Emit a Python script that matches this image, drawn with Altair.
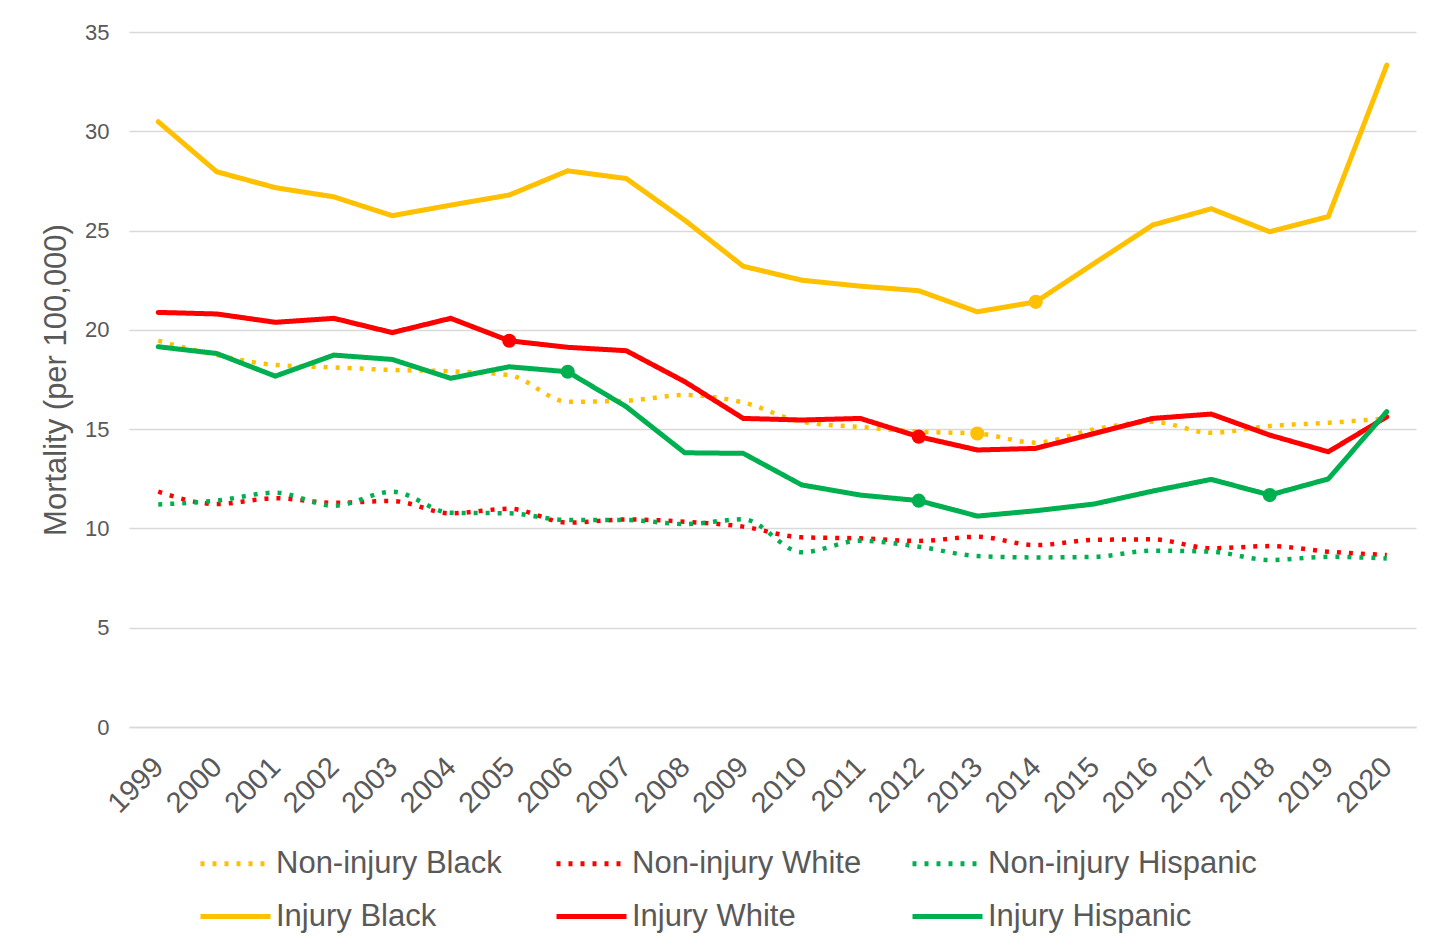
import altair as alt
import pandas as pd

years = [str(y) for y in range(1999, 2021)]

series_names = ["Non-injury Black", "Non-injury White", "Non-injury Hispanic",
                "Injury Black", "Injury White", "Injury Hispanic"]
series_colors = ["#FFC000", "#FF0000", "#00B050", "#FFC000", "#FF0000", "#00B050"]

noninj_black = [19.45, 18.73, 18.23, 18.11, 17.98, 17.91, 17.72, 16.38, 16.43, 16.72, 16.34,
                15.37, 15.11, 14.87, 14.78, 14.32, 14.99, 15.37, 14.82, 15.16, 15.32, 15.54]
noninj_white = [11.85, 11.23, 11.52, 11.29, 11.38, 10.76, 10.99, 10.29, 10.45, 10.34, 10.09,
                9.55, 9.50, 9.37, 9.58, 9.16, 9.42, 9.45, 9.00, 9.11, 8.83, 8.66]
noninj_hisp = [11.21, 11.40, 11.80, 11.14, 11.85, 10.79, 10.76, 10.42, 10.42, 10.22, 10.46,
               8.80, 9.38, 9.08, 8.61, 8.54, 8.57, 8.88, 8.83, 8.41, 8.57, 8.49]
injury_black = [30.48, 27.96, 27.16, 26.70, 25.75, 26.28, 26.79, 28.01, 27.62, 25.52, 23.20,
                22.50, 22.20, 21.97, 20.91, 21.41, 23.35, 25.28, 26.10, 24.94, 25.70, 33.33]
injury_white = [20.88, 20.80, 20.38, 20.58, 19.86, 20.58, 19.45, 19.12, 18.95, 17.39, 15.54,
                15.46, 15.54, 14.62, 13.95, 14.03, 14.78, 15.54, 15.76, 14.70, 13.86, 15.62]
injury_hisp = [19.15, 18.81, 17.67, 18.73, 18.51, 17.56, 18.14, 17.89, 16.13, 13.81, 13.78,
               12.19, 11.68, 11.40, 10.62, 10.89, 11.23, 11.88, 12.47, 11.68, 12.49, 15.88]

series_values = [noninj_black, noninj_white, noninj_hisp, injury_black, injury_white, injury_hisp]

# highlighted points (series, year)
marker_series = ["Injury White", "Injury White", "Injury Hispanic", "Injury Hispanic",
                 "Injury Hispanic", "Injury Black", "Non-injury Black"]
marker_years = ["2005", "2012", "2006", "2012", "2018", "2014", "2013"]

rows = []
for name, vals in zip(series_names, series_values):
    for y, v in zip(years, vals):
        rows.append({"year": y, "series": name, "value": v})
df = pd.DataFrame(rows)

mk = pd.DataFrame({"series": marker_series, "year": marker_years})
mk = mk.merge(df, on=["series", "year"])

dot = [4, 8]
solid = [1, 0]
dash_range = [dot, dot, dot, solid, solid, solid]

x_enc = alt.X("year:O", title=None,
              scale=alt.Scale(type="point", padding=0.5),
              axis=alt.Axis(labelAngle=-45, labelAlign="right", labelBaseline="middle",
                            labelFontSize=29, labelColor="#595959",
                            labelPadding=35, ticks=False, domain=True,
                            domainColor="#D9D9D9", domainWidth=1.5, grid=False))
y_enc = alt.Y("value:Q", title="Mortality (per 100,000)",
              scale=alt.Scale(domain=[0, 35], nice=False),
              axis=alt.Axis(values=[0, 5, 10, 15, 20, 25, 30, 35], labelFontSize=22,
                            labelColor="#595959", labelPadding=20, ticks=False,
                            domain=False, gridColor="#D9D9D9", gridWidth=1.5,
                            titleFontSize=31, titleColor="#595959",
                            titleFontWeight="normal", titlePadding=12))
color_enc = alt.Color("series:N", title=None,
                      scale=alt.Scale(domain=series_names, range=series_colors),
                      legend=alt.Legend(orient="none", legendX=69, legendY=794,
                                        direction="horizontal",
                                        columns=3, symbolType="stroke",
                                        symbolSize=4900, symbolStrokeWidth=5,
                                        labelFontSize=31, labelColor="#595959",
                                        labelOffset=3, rowPadding=-26,
                                        columnPadding=1, gridAlign="all",
                                        labelLimit=400))
dash_enc = alt.StrokeDash("series:N", title=None,
                          scale=alt.Scale(domain=series_names, range=dash_range))

layers = []
for i, name in enumerate(series_names):
    is_dot = i < 3
    layers.append(
        alt.Chart(df).transform_filter(alt.datum.series == name)
        .mark_line(strokeWidth=4.5 if is_dot else 5,
                   strokeCap="butt" if is_dot else "round",
                   strokeJoin="round",
                   interpolate="monotone" if is_dot else "linear")
        .encode(x=x_enc, y=y_enc, color=color_enc, strokeDash=dash_enc)
    )

points = alt.Chart(mk).mark_point(filled=True, size=200, opacity=1).encode(
    x=x_enc, y=y_enc,
    color=alt.Color("series:N", scale=alt.Scale(domain=series_names, range=series_colors),
                    legend=None)
)

chart = alt.layer(*layers, points).properties(
    width=1287, height=695,
    autosize=alt.AutoSizeParams(type="none"),
    padding={"left": 121, "top": 24, "right": 26, "bottom": 210},
).configure(font="Liberation Sans").configure_view(stroke=None)

chart.save("out.html", embed_options={"renderer": "svg", "actions": False})
